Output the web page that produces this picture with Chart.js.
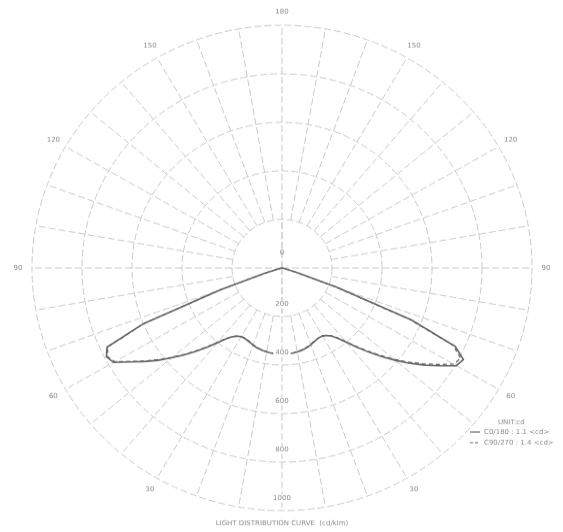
<!DOCTYPE html>
<html>
<head>
<meta charset="utf-8">
<script src="https://cdn.jsdelivr.net/npm/chart.js@4/dist/chart.umd.min.js"></script>
<style>
  html, body { margin: 0; padding: 0; background: #fff; overflow: hidden; }
  #wrap { width: 563px; height: 532px; overflow: hidden; }
  /* the polar plot is printed slightly flattened vertically */
  #c { transform: scale(1, 0.9708); transform-origin: 0 0; display: block; }
</style>
</head>
<body>
<div id="wrap"><canvas id="c" width="563" height="548"></canvas></div>
<script>
// Gamma angles (degrees from nadir) for every intensity reading below
const gamma = [
  0, 2.5, 5, 7.5, 10, 12.5, 15, 17.5, 20, 22.5,
  25, 27.5, 30, 32.5, 35, 37.5, 40, 42.5, 45, 47.5,
  50, 52.5, 55, 57.5, 60, 62.5, 65, 67.5, 70, 72.5,
  75, 77.5, 80, 82.5, 85, 87.5, 90, 92.5, 95, 97.5,
  100, 102.5, 105, 107.5, 110, 112.5, 115, 117.5, 120, 122.5,
  125, 127.5, 130, 132.5, 135, 137.5, 140, 142.5, 145, 147.5,
  150, 152.5, 155, 157.5, 160, 162.5, 165, 167.5, 170, 172.5,
  175, 177.5, 180
];

// Luminous intensity, cd/klm, per C-plane
const c0 = [
  355, 355, 354, 353, 351, 349, 346, 342, 337, 331,
  326, 323, 324, 330, 342, 364, 398, 442, 490, 540,
  592, 645, 698, 750, 805, 818, 765, 560, 232, 66,
  9, 0, 0, 0, 0, 0, 0, 0, 0, 0,
  0, 0, 0, 0, 0, 0, 0, 0, 0, 0,
  0, 0, 0, 0, 0, 0, 0, 0, 0, 0,
  0, 0, 0, 0, 0, 0, 0, 0, 0, 0,
  0, 0, 0
];
const c180 = [
  355, 355, 354, 353, 351, 349, 346, 343, 338, 333,
  329, 326, 327, 333, 346, 368, 402, 442, 485, 530,
  576, 625, 672, 720, 778, 792, 772, 600, 260, 70,
  8, 0, 0, 0, 0, 0, 0, 0, 0, 0,
  0, 0, 0, 0, 0, 0, 0, 0, 0, 0,
  0, 0, 0, 0, 0, 0, 0, 0, 0, 0,
  0, 0, 0, 0, 0, 0, 0, 0, 0, 0,
  0, 0, 0
];
const c90 = [
  355, 355, 354, 352, 350, 347, 344, 340, 335, 329,
  325, 322, 323, 329, 340, 361, 394, 437, 484, 533,
  585, 637, 688, 740, 792, 806, 756, 552, 226, 63,
  8, 0, 0, 0, 0, 0, 0, 0, 0, 0,
  0, 0, 0, 0, 0, 0, 0, 0, 0, 0,
  0, 0, 0, 0, 0, 0, 0, 0, 0, 0,
  0, 0, 0, 0, 0, 0, 0, 0, 0, 0,
  0, 0, 0
];
const c270 = [
  355, 355, 354, 352, 350, 348, 345, 341, 336, 331,
  327, 325, 326, 332, 345, 366, 399, 438, 481, 526,
  572, 620, 668, 716, 772, 788, 768, 596, 255, 68,
  7, 0, 0, 0, 0, 0, 0, 0, 0, 0,
  0, 0, 0, 0, 0, 0, 0, 0, 0, 0,
  0, 0, 0, 0, 0, 0, 0, 0, 0, 0,
  0, 0, 0, 0, 0, 0, 0, 0, 0, 0,
  0, 0, 0
];

// Scale annotations
const ringTicks = [200, 400, 600, 800, 1000];
const angleTicks = [30, 60, 90, 120, 150, 180];
const seriesNames = ['C0/180 : 1.1 <cd>', 'C90/270 : 1.4 <cd>'];
const unitLabel = 'UNIT:cd';
const chartTitle = 'LIGHT DISTRIBUTION CURVE  (cd/klm)';

// Full circle of spokes: left half runs nadir -> zenith, right half back down
const half = gamma.length - 1;            // 72 steps of 2.5 deg
const spokeCount = half * 2;              // 144 spokes round the circle
const spokes = [];
for (let i = 0; i < spokeCount; i++) {
  spokes.push(String(i <= half ? gamma[i] : gamma[spokeCount - i]));
}
function loop(rightPlane, leftPlane) {
  const out = [];
  for (let i = 0; i < spokeCount; i++) {
    out.push(i <= half ? leftPlane[i] : rightPlane[spokeCount - i]);
  }
  return out;
}
function spokeIndex(g, side) {
  const k = gamma.indexOf(g);
  return side < 0 ? k : (spokeCount - k) % spokeCount;
}

const gridColor = '#c9c9c9';
const textColor = '#8a8a8a';
const curveColor = '#666666';
const smallFont = '7px "DejaVu Sans", sans-serif';
const gridDash = [7, 3];

const polarDecor = {
  id: 'polarDecor',
  beforeDatasetsDraw(chart) {
    const s = chart.scales.r;
    const ctx = chart.ctx;
    const r0 = s.getDistanceFromCenterForValue(ringTicks[0]);
    ctx.save();
    // clear the spokes inside the first ring
    ctx.fillStyle = '#fff';
    ctx.beginPath();
    ctx.arc(s.xCenter, s.yCenter, r0 - 1, 0, Math.PI * 2);
    ctx.fill();
    // main axes run through the centre
    ctx.strokeStyle = gridColor;
    ctx.lineWidth = 1;
    ctx.setLineDash(gridDash);
    ctx.beginPath();
    [0, 90, 180].forEach(g => {
      [-1, 1].forEach(side => {
        const p = s.getPointPosition(spokeIndex(g, side), r0);
        ctx.moveTo(s.xCenter, s.yCenter);
        ctx.lineTo(p.x, p.y);
      });
    });
    ctx.stroke();
    ctx.restore();
  },
  afterDraw(chart) {
    const s = chart.scales.r;
    const ctx = chart.ctx;
    ctx.save();
    ctx.font = smallFont;
    ctx.textAlign = 'center';
    ctx.textBaseline = 'middle';
    // angle labels outside the outer ring
    ctx.fillStyle = textColor;
    angleTicks.forEach(g => {
      const sides = (g === 180) ? [-1] : [-1, 1];
      sides.forEach(side => {
        const p = s.getPointPosition(spokeIndex(g, side), s.drawingArea + 14);
        ctx.fillText(String(g), p.x, p.y);
      });
    });
    // ring values along the nadir axis
    ringTicks.forEach(v => {
      const p = s.getPointPosition(0, s.getDistanceFromCenterForValue(v) - 12.5);
      const w = ctx.measureText(String(v)).width;
      ctx.fillStyle = '#fff';
      ctx.fillRect(p.x - w / 2 - 2, p.y - 4, w + 4, 8);
      ctx.fillStyle = textColor;
      ctx.fillText(String(v), p.x, p.y);
    });
    ctx.fillText('0', s.xCenter, s.yCenter - 16);

    // legend block
    const lx = 470, ly = 435;
    ctx.textAlign = 'left';
    ctx.fillText(unitLabel, lx + 28, ly);
    seriesNames.forEach((name, k) => {
      const y = ly + 10 + k * 11;
      ctx.strokeStyle = curveColor;
      ctx.lineWidth = 1.2;
      ctx.setLineDash(k === 0 ? [] : [3, 2]);
      ctx.beginPath();
      ctx.moveTo(lx, y);
      ctx.lineTo(lx + 10, y);
      ctx.stroke();
      ctx.fillStyle = textColor;
      ctx.fillText(name, lx + 14, y);
    });

    // caption under the diagram
    ctx.textAlign = 'center';
    ctx.fillText(chartTitle, s.xCenter, 539);
    ctx.restore();
  }
};

new Chart(document.getElementById('c'), {
  type: 'radar',
  data: {
    labels: spokes,
    datasets: [
      {
        label: seriesNames[0],
        data: loop(c0, c180),
        borderColor: curveColor,
        borderWidth: 1.6,
        pointRadius: 0,
        fill: false,
        tension: 0
      },
      {
        label: seriesNames[1],
        data: loop(c90, c270),
        borderColor: curveColor,
        borderWidth: 1.2,
        borderDash: [4, 3],
        pointRadius: 0,
        fill: false,
        tension: 0
      }
    ]
  },
  options: {
    responsive: false,
    animation: false,
    events: [],
    layout: { padding: { left: 32, right: 31, top: 26, bottom: 22 } },
    plugins: { legend: { display: false }, tooltip: { enabled: false } },
    scales: {
      r: {
        startAngle: 180,
        min: 0,
        max: 1000,
        ticks: { display: false, stepSize: 200 },
        pointLabels: { display: false },
        grid: { circular: true, color: gridColor, lineWidth: 1, borderDash: gridDash },
        border: { dash: gridDash },
        angleLines: {
          display: true,
          color: c => (c.index % 4 === 0 ? gridColor : 'rgba(0,0,0,0)'),
          lineWidth: c => (c.index % 4 === 0 ? 1 : 0),
          borderDash: gridDash
        }
      }
    }
  },
  plugins: [polarDecor]
});
</script>
</body>
</html>
